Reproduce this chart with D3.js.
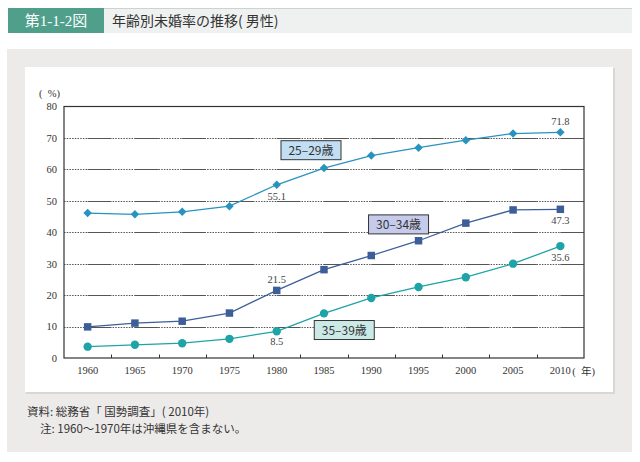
<!DOCTYPE html>
<html>
<head>
<meta charset="utf-8">
<script src="https://cdn.jsdelivr.net/npm/d3@7"></script>
<style>
  body { margin: 0; background: #fff; }
  text { font-family: "Liberation Serif", "DejaVu Serif", "Noto Sans CJK JP", serif; }
  .jp { font-family: "Noto Sans CJK JP", sans-serif; }
</style>
</head>
<body>
<div id="graph"></div>
<script>
var years = ["1960", "1965", "1970", "1975", "1980", "1985", "1990", "1995", "2000", "2005", "2010"];
var age25_29 = [46.1, 45.7, 46.5, 48.3, 55.1, 60.4, 64.4, 66.9, 69.3, 71.4, 71.8];
var age30_34 = [9.9, 11.1, 11.7, 14.3, 21.5, 28.1, 32.6, 37.3, 42.9, 47.1, 47.3];
var age35_39 = [3.6, 4.2, 4.7, 6.1, 8.5, 14.2, 19.1, 22.6, 25.7, 30.0, 35.6];
var yTicks = [0, 10, 20, 30, 40, 50, 60, 70, 80];
var seriesNames = ["25\u201329歳", "30\u201334歳", "35\u201339歳"];

var W = 640, H = 462;
var plot = { left: 64, right: 584, top: 106.5, bottom: 358 };

var svg = d3.select("#graph").append("svg")
    .attr("width", W).attr("height", H);

// title bar
svg.append("rect").attr("x", 8).attr("y", 8).attr("width", 624).attr("height", 25).attr("fill", "#eef1f0");
svg.append("line").attr("x1", 8).attr("x2", 632).attr("y1", 8.5).attr("y2", 8.5).attr("stroke", "#c9d3cf");
svg.append("rect").attr("x", 8).attr("y", 8).attr("width", 96).attr("height", 25).attr("fill", "#4f9f8b");
svg.append("text").attr("x", 56).attr("y", 26).attr("text-anchor", "middle")
    .attr("fill", "#fff").style("font-size", "15px").text("第1-1-2図");
svg.append("text").attr("class", "jp").attr("x", 112).attr("y", 26)
    .attr("fill", "#333").style("font-size", "14px").text("年齢別未婚率の推移( 男性)");

// panels
svg.append("rect").attr("x", 7).attr("y", 49).attr("width", 625).attr("height", 403).attr("fill", "#edebea");
svg.append("rect").attr("x", 26).attr("y", 68).attr("width", 589).attr("height", 326).attr("fill", "#d9d7d6");
svg.append("rect").attr("x", 25).attr("y", 67).attr("width", 588).attr("height", 325).attr("fill", "#fff");

var x = d3.scaleBand().domain(years).range([plot.left, plot.right]).padding(0);
var y = d3.scaleLinear().domain([0, 80]).range([plot.bottom, plot.top]);
var bw = x.bandwidth();

// grid lines: dotted halves and solid halves
var grid = svg.append("g");
yTicks.filter(function (d) { return d > 0 && d < 80; }).forEach(function (d) {
    grid.append("line").attr("x1", plot.left).attr("x2", plot.right)
        .attr("y1", Math.round(y(d)) + 0.5).attr("y2", Math.round(y(d)) + 0.5)
        .attr("stroke", "#555").attr("stroke-width", 1).attr("stroke-dasharray", "1.5,1.2");
    grid.append("line").attr("x1", plot.left).attr("x2", plot.right)
        .attr("y1", Math.round(y(d)) + 0.5).attr("y2", Math.round(y(d)) + 0.5)
        .attr("stroke", "#555").attr("stroke-width", 1)
        .attr("stroke-dasharray", (bw / 2) + "," + (bw / 2))
        .attr("stroke-dashoffset", bw / 2);
});

// frame
svg.append("rect").attr("x", plot.left).attr("y", plot.top)
    .attr("width", plot.right - plot.left).attr("height", plot.bottom - plot.top)
    .attr("fill", "none").attr("stroke", "#333").attr("stroke-width", 1.2);

// y axis labels
var yAxis = d3.axisLeft(y).tickValues(yTicks).tickSize(0).tickPadding(7);
var gy = svg.append("g").attr("transform", "translate(" + plot.left + ",0)").call(yAxis);
gy.select(".domain").remove();
gy.selectAll("text").style("font-size", "10.5px").attr("fill", "#333")
    .style("font-family", "Liberation Serif, serif");
svg.append("text").attr("x", 39).attr("y", 97).attr("fill", "#333").style("font-size", "10.5px")
    .attr("xml:space", "preserve").style("white-space", "pre").text("(  %)");

// x axis: ticks at band boundaries, labels at centers
var xAxis = d3.axisBottom(x).tickSize(0).tickPadding(9);
var gx = svg.append("g").attr("transform", "translate(0," + plot.bottom + ")").call(xAxis);
gx.select(".domain").remove();
gx.selectAll("text").style("font-size", "10.5px").attr("fill", "#333")
    .style("font-family", "Liberation Serif, serif");
svg.append("text").attr("x", x("2010") + bw / 2 + 12).attr("y", plot.bottom + 17)
    .attr("fill", "#333").style("font-size", "10.5px")
    .style("white-space", "pre").text("(  年)");
svg.append("g").selectAll("line").data(years.slice(1)).enter().append("line")
    .attr("x1", function (d) { return Math.round(x(d)) + 0.5; })
    .attr("x2", function (d) { return Math.round(x(d)) + 0.5; })
    .attr("y1", plot.bottom).attr("y2", plot.bottom - 3.5)
    .attr("stroke", "#333").attr("stroke-width", 1);

// series
var series = [
    { name: seriesNames[0], values: age25_29, color: "#2993bf", symbol: d3.symbolSquare, size: 36, rotate: 45 },
    { name: seriesNames[1], values: age30_34, color: "#3d5f99", symbol: d3.symbolSquare, size: 56, rotate: 0 },
    { name: seriesNames[2], values: age35_39, color: "#1ea3a7", symbol: d3.symbolCircle, size: 55, rotate: 0 }
];

var line = d3.line()
    .x(function (d, i) { return x(years[i]) + bw / 2; })
    .y(function (d) { return y(d); });

series.forEach(function (s) {
    svg.append("path").datum(s.values).attr("d", line)
        .attr("fill", "none").attr("stroke", s.color).attr("stroke-width", 1.3);
    svg.append("g").selectAll("path").data(s.values).enter().append("path")
        .attr("d", d3.symbol().type(s.symbol).size(s.size))
        .attr("transform", function (d, i) {
            return "translate(" + (x(years[i]) + bw / 2) + "," + y(d) + ") rotate(" + s.rotate + ")";
        })
        .attr("fill", s.color);
});

// value labels
var valueLabels = [
    { year: "1980", v: age25_29[4], dy: 15 },
    { year: "2010", v: age25_29[10], dy: -7 },
    { year: "1980", v: age30_34[4], dy: -7 },
    { year: "2010", v: age30_34[10], dy: 15 },
    { year: "1980", v: age35_39[4], dy: 14 },
    { year: "2010", v: age35_39[10], dy: 15 }
];
svg.append("g").selectAll("text").data(valueLabels).enter().append("text")
    .attr("x", function (d) { return x(d.year) + bw / 2; })
    .attr("y", function (d) { return y(d.v) + d.dy; })
    .attr("text-anchor", "middle").attr("fill", "#444").style("font-size", "10.5px")
    .text(function (d) { return d.v.toFixed(1); });

// legend boxes (anchored at a year / value spot, shifted in px)
var boxes = [
    { label: seriesNames[0], year: "1985", v: 66.1, dx: -13, fill: "#c1def2" },
    { label: seriesNames[1], year: "1995", v: 42.5, dx: -20, fill: "#c6cbeb" },
    { label: seriesNames[2], year: "1990", v: 8.9, dx: -27, fill: "#cbeae7" }
];
var bg = svg.append("g").selectAll("g").data(boxes).enter().append("g")
    .attr("transform", function (d) {
        return "translate(" + (x(d.year) + bw / 2 + d.dx - 30) + "," + (y(d.v) - 9.5) + ")";
    });
bg.append("rect").attr("width", 60).attr("height", 19)
    .attr("fill", function (d) { return d.fill; }).attr("stroke", "#333").attr("stroke-width", 1);
bg.append("text").attr("class", "jp").attr("x", 30).attr("y", 14).attr("text-anchor", "middle")
    .attr("fill", "#333").style("font-size", "12px").text(function (d) { return d.label; });

// notes
svg.append("text").attr("class", "jp").attr("x", 27).attr("y", 416).attr("fill", "#333")
    .style("font-size", "11.5px").text("資料: 総務省「 国勢調査」( 2010年)");
svg.append("text").attr("class", "jp").attr("x", 40).attr("y", 433).attr("fill", "#333")
    .style("font-size", "11.5px").text("注: 1960～1970年は沖縄県を含まない。");
</script>
</body>
</html>
